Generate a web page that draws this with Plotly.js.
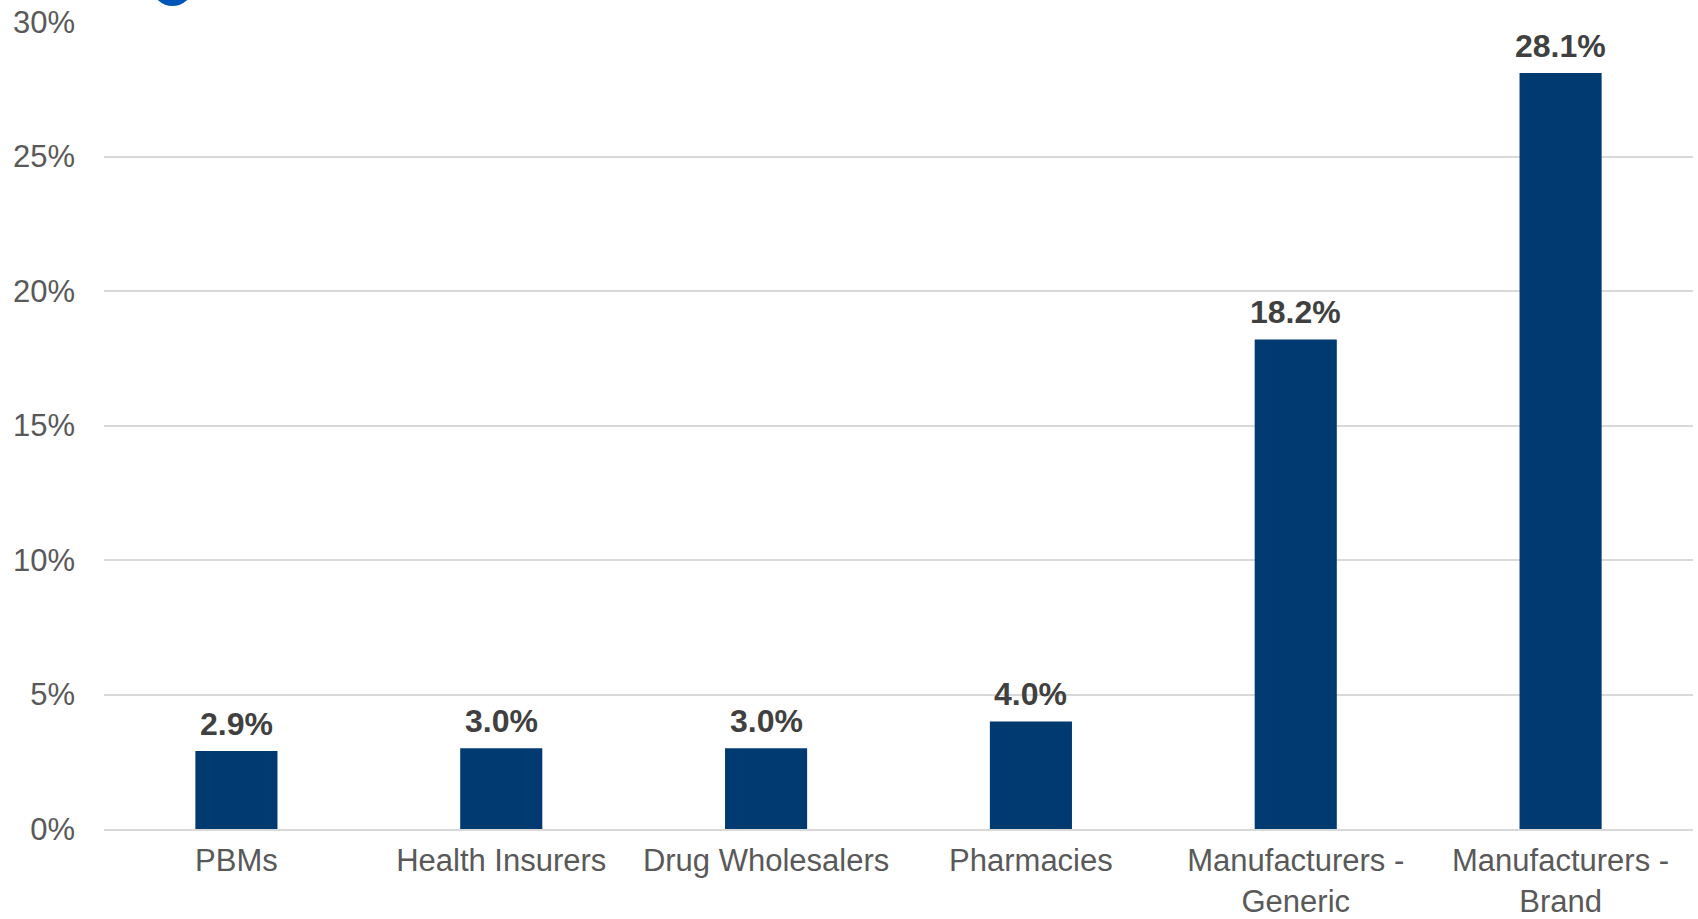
<!DOCTYPE html>
<html>
<head>
<meta charset="utf-8">
<script src="https://cdn.plot.ly/plotly-3.0.1.min.js"></script>
<style>html,body{margin:0;padding:0;background:#fff;}#chart{width:1698px;height:919px;}</style>
</head>
<body>
<div id="chart"></div>
<script>
const categories = ["PBMs", "Health Insurers", "Drug Wholesalers", "Pharmacies", "Manufacturers -<br>Generic", "Manufacturers -<br>Brand"];
const values = [0.029, 0.030, 0.030, 0.040, 0.182, 0.281];
const valueLabels = ["2.9%", "3.0%", "3.0%", "4.0%", "18.2%", "28.1%"];
const yTickVals = [0, 0.05, 0.10, 0.15, 0.20, 0.25, 0.30];
const yTickText = ["0%", "5%", "10%", "15%", "20%", "25%", "30%"];

const trace = {
  type: "bar",
  x: categories,
  y: values,
  marker: {color: "#003A70"},
  hoverinfo: "skip"
};

const labelAnnotations = categories.map((c, i) => ({
  x: c,
  y: values[i],
  xref: "x",
  yref: "y",
  text: "<b>" + valueLabels[i] + "</b>",
  showarrow: false,
  yanchor: "bottom",
  xanchor: "center",
  yshift: 7,
  font: {family: "Liberation Sans, Arial, sans-serif", size: 32, color: "#404040"}
}));

const layout = {
  width: 1698,
  height: 919,
  margin: {l: 104, r: 5, t: 22, b: 90},
  paper_bgcolor: "#ffffff",
  plot_bgcolor: "#ffffff",
  bargap: 0.69,
  showlegend: false,
  font: {family: "Liberation Sans, Arial, sans-serif", size: 31, color: "#595959"},
  xaxis: {
    tickfont: {size: 31, color: "#595959"},
    showgrid: false,
    showline: true,
    linecolor: "#d9d9d9",
    linewidth: 2,
    ticks: "",
    ticklabelstandoff: 3,
    fixedrange: true
  },
  yaxis: {
    range: [0, 0.3],
    tickvals: yTickVals,
    ticktext: yTickText,
    tickfont: {size: 31, color: "#595959"},
    showgrid: true,
    gridcolor: "#d9d9d9",
    gridwidth: 2,
    zeroline: false,
    showline: false,
    ticks: "",
    ticklabelstandoff: 28,
    fixedrange: true
  },
  annotations: labelAnnotations,
  shapes: [
    {type: "circle", xref: "paper", yref: "paper",
     x0: 0.0308, x1: 0.0554, y0: 1.0198, y1: 1.064,
     fillcolor: "#0055B8", line: {width: 0}, layer: "above"}
  ]
};

Plotly.newPlot("chart", [trace], layout, {displayModeBar: false, staticPlot: true});
</script>
</body>
</html>
